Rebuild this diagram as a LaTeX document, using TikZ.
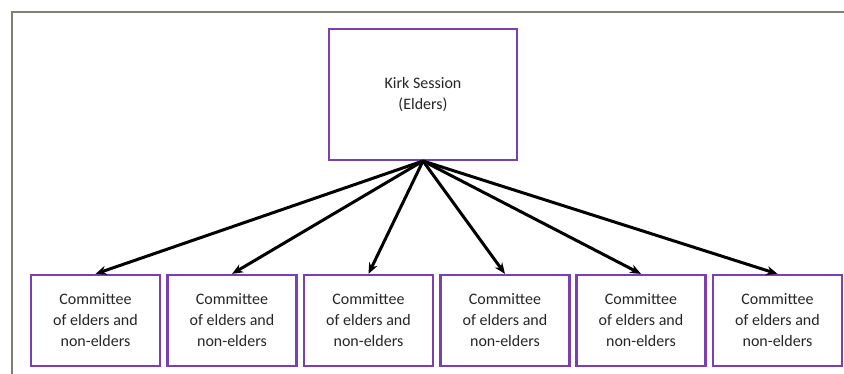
\documentclass[tikz,border=0pt]{standalone}
\usepackage{fontspec}
\setmainfont{Carlito}
\usetikzlibrary{arrows.meta}
\definecolor{boxpurple}{HTML}{7A3FB0}
\definecolor{framegray}{HTML}{7F7F72}
\tikzset{
  orgbox/.style={draw=boxpurple, line width=2.2pt, fill=white, align=center,
    minimum width=129pt, minimum height=91pt, inner sep=0pt,
    font=\fontsize{16}{21}\selectfont, text=black!85},
  topbox/.style={orgbox, minimum width=188pt, minimum height=131pt},
  link/.style={line width=3pt, -{Stealth[length=11pt,width=9pt]}}
}
\begin{document}
\begin{tikzpicture}[x=1pt,y=-1pt]
\useasboundingbox (0,0) rectangle (844,374);
\draw[framegray, line width=1.8pt] (12,374) -- (12,12) -- (844,12);
\node[topbox] (top) at (423,94.5) {Kirk Session\\(Elders)};
\coordinate (hub) at (423,161);
\foreach \i/\cx in {1/95.5,2/232,3/368.5,4/505,5/641,6/777.5}{
  \node[orgbox] (c\i) at (\cx,320.5) {Committee\\of elders and\\non-elders};
}
\foreach \i in {1,...,6}{
  \draw[link] (hub) -- (c\i.north);
}
\end{tikzpicture}
\end{document}
